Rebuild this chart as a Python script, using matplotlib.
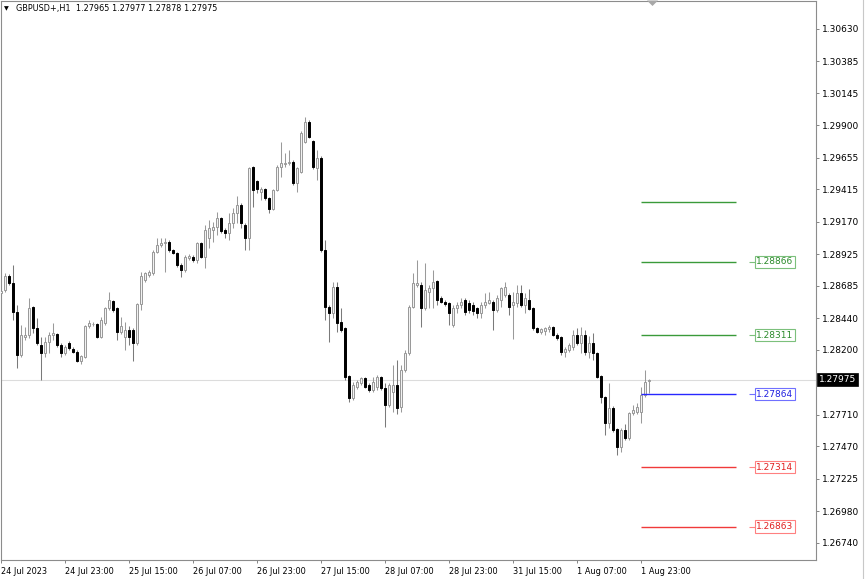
import matplotlib
matplotlib.use("Agg")
import matplotlib.pyplot as plt
import matplotlib.transforms as mtransforms
from matplotlib.patches import Polygon
from matplotlib.lines import Line2D

# ---------------- data (GBPUSD+, H1) ----------------
opens = [
    1.28631, 1.28654, 1.28760, 1.28706, 1.28487, 1.28161, 1.28298, 1.28313, 1.28525, 1.28366,
    1.28237, 1.28176, 1.28260, 1.28313, 1.28321, 1.28237, 1.28176, 1.28252, 1.28207, 1.28184,
    1.28116, 1.28146, 1.28381, 1.28396, 1.28396, 1.28298, 1.28404, 1.28517, 1.28570, 1.28517,
    1.28336, 1.28298, 1.28351, 1.28351, 1.28252, 1.28548, 1.28729, 1.28767, 1.28782, 1.28942,
    1.28995, 1.29010, 1.29017, 1.28957, 1.28934, 1.28843, 1.28805, 1.28896, 1.28904, 1.28881,
    1.29010, 1.28904, 1.29047, 1.29108, 1.29131, 1.29199, 1.29108, 1.29085, 1.29161, 1.29237,
    1.29297, 1.29146, 1.29047, 1.29585, 1.29479, 1.29396, 1.29418, 1.29350, 1.29267, 1.29411,
    1.29585, 1.29608, 1.29615, 1.29623, 1.29464, 1.29547, 1.29774, 1.29925, 1.29782, 1.29577,
    1.29653, 1.28957, 1.28525, 1.28480, 1.28676, 1.28412, 1.28366, 1.28003, 1.27836, 1.27919,
    1.27949, 1.27987, 1.27934, 1.27897, 1.27919, 1.27995, 1.27912, 1.27783, 1.27882, 1.27934,
    1.27768, 1.28048, 1.28176, 1.28525, 1.28691, 1.28691, 1.28517, 1.28639, 1.28668, 1.28722,
    1.28593, 1.28563, 1.28555, 1.28389, 1.28517, 1.28540, 1.28578, 1.28555, 1.28540, 1.28517,
    1.28480, 1.28540, 1.28555, 1.28563, 1.28502, 1.28578, 1.28616, 1.28616, 1.28540, 1.28555,
    1.28631, 1.28540, 1.28578, 1.28517, 1.28366, 1.28336, 1.28343, 1.28359, 1.28374, 1.28313,
    1.28298, 1.28184, 1.28199, 1.28222, 1.28313, 1.28252, 1.28313, 1.28184, 1.28252, 1.28176,
    1.28003, 1.27844, 1.27647, 1.27760, 1.27601, 1.27465, 1.27594, 1.27533, 1.27722, 1.27730,
    1.27730, 1.27859, 1.27965,
]
highs = [
    1.28668, 1.28782, 1.28775, 1.28843, 1.28540, 1.28389, 1.28374, 1.28593, 1.28533, 1.28441,
    1.28298, 1.28298, 1.28336, 1.28404, 1.28328, 1.28252, 1.28237, 1.28267, 1.28222, 1.28199,
    1.28161, 1.28389, 1.28427, 1.28412, 1.28404, 1.28449, 1.28525, 1.28639, 1.28578, 1.28525,
    1.28449, 1.28412, 1.28381, 1.28366, 1.28555, 1.28790, 1.28790, 1.28805, 1.28957, 1.29047,
    1.29047, 1.29047, 1.29032, 1.28964, 1.28942, 1.28858, 1.28919, 1.28927, 1.28919, 1.29017,
    1.29017, 1.29146, 1.29184, 1.29169, 1.29244, 1.29207, 1.29123, 1.29237, 1.29274, 1.29365,
    1.29312, 1.29161, 1.29585, 1.29593, 1.29487, 1.29434, 1.29426, 1.29358, 1.29418, 1.29600,
    1.29774, 1.29691, 1.29714, 1.29638, 1.29585, 1.29857, 1.29963, 1.29941, 1.29789, 1.29714,
    1.29668, 1.29032, 1.28540, 1.28714, 1.28714, 1.28517, 1.28374, 1.28010, 1.27957, 1.27972,
    1.27995, 1.27995, 1.27949, 1.27995, 1.28010, 1.28003, 1.27949, 1.27949, 1.28086, 1.28124,
    1.28086, 1.28199, 1.28540, 1.28782, 1.28881, 1.28714, 1.28858, 1.28691, 1.28805, 1.28729,
    1.28608, 1.28578, 1.28563, 1.28540, 1.28563, 1.28593, 1.28593, 1.28578, 1.28563, 1.28525,
    1.28563, 1.28631, 1.28639, 1.28578, 1.28616, 1.28676, 1.28714, 1.28631, 1.28639, 1.28691,
    1.28691, 1.28631, 1.28661, 1.28525, 1.28374, 1.28366, 1.28374, 1.28389, 1.28381, 1.28328,
    1.28305, 1.28222, 1.28252, 1.28351, 1.28366, 1.28374, 1.28351, 1.28305, 1.28328, 1.28184,
    1.28010, 1.27851, 1.27949, 1.27775, 1.27609, 1.27609, 1.27639, 1.27730, 1.27783, 1.27798,
    1.27919, 1.28048, 1.27977,
]
lows = [
    1.28616, 1.28639, 1.28691, 1.28427, 1.28063, 1.28146, 1.28275, 1.28290, 1.28328, 1.28237,
    1.27972, 1.28146, 1.28176, 1.28275, 1.28222, 1.28146, 1.28161, 1.28199, 1.28176, 1.28109,
    1.28094, 1.28139, 1.28366, 1.28381, 1.28290, 1.28290, 1.28389, 1.28502, 1.28487, 1.28275,
    1.28321, 1.28199, 1.28237, 1.28116, 1.28237, 1.28502, 1.28714, 1.28752, 1.28767, 1.28934,
    1.28980, 1.28790, 1.28942, 1.28927, 1.28828, 1.28752, 1.28790, 1.28881, 1.28866, 1.28858,
    1.28896, 1.28820, 1.28972, 1.29017, 1.29070, 1.29085, 1.29047, 1.29032, 1.29123, 1.29161,
    1.29123, 1.28957, 1.28957, 1.29282, 1.29388, 1.29335, 1.29335, 1.29237, 1.29259, 1.29403,
    1.29509, 1.29585, 1.29600, 1.29449, 1.29396, 1.29540, 1.29767, 1.29804, 1.29570, 1.29487,
    1.28942, 1.28427, 1.28260, 1.28442, 1.28336, 1.28336, 1.27972, 1.27806, 1.27821, 1.27904,
    1.27934, 1.27912, 1.27882, 1.27882, 1.27897, 1.27897, 1.27617, 1.27768, 1.27730, 1.27715,
    1.27730, 1.28033, 1.28161, 1.28517, 1.28676, 1.28374, 1.28502, 1.28517, 1.28517, 1.28540,
    1.28555, 1.28533, 1.28389, 1.28374, 1.28480, 1.28517, 1.28465, 1.28480, 1.28465, 1.28442,
    1.28442, 1.28517, 1.28548, 1.28351, 1.28487, 1.28525, 1.28601, 1.28465, 1.28283, 1.28525,
    1.28525, 1.28480, 1.28502, 1.28351, 1.28328, 1.28321, 1.28313, 1.28336, 1.28305, 1.28275,
    1.28161, 1.28146, 1.28184, 1.28199, 1.28237, 1.28176, 1.28161, 1.28139, 1.28124, 1.27987,
    1.27798, 1.27556, 1.27609, 1.27579, 1.27405, 1.27427, 1.27518, 1.27518, 1.27707, 1.27715,
    1.27647, 1.27844, 1.27878,
]
closes = [
    1.28646, 1.28760, 1.28706, 1.28487, 1.28161, 1.28313, 1.28313, 1.28517, 1.28366, 1.28252,
    1.28176, 1.28260, 1.28313, 1.28328, 1.28237, 1.28176, 1.28222, 1.28214, 1.28184, 1.28116,
    1.28154, 1.28381, 1.28404, 1.28398, 1.28298, 1.28427, 1.28517, 1.28578, 1.28502, 1.28336,
    1.28381, 1.28351, 1.28298, 1.28252, 1.28545, 1.28760, 1.28782, 1.28790, 1.28942, 1.28995,
    1.29010, 1.29017, 1.28957, 1.28934, 1.28843, 1.28805, 1.28904, 1.28912, 1.28881, 1.29010,
    1.28904, 1.29108, 1.29123, 1.29131, 1.29199, 1.29101, 1.29085, 1.29161, 1.29237, 1.29297,
    1.29161, 1.29047, 1.29577, 1.29411, 1.29418, 1.29418, 1.29350, 1.29267, 1.29411, 1.29585,
    1.29615, 1.29615, 1.29623, 1.29464, 1.29580, 1.29842, 1.29925, 1.29812, 1.29585, 1.29653,
    1.28957, 1.28525, 1.28480, 1.28676, 1.28404, 1.28351, 1.27995, 1.27836, 1.27934, 1.27957,
    1.27987, 1.27919, 1.27897, 1.27957, 1.27995, 1.27912, 1.27783, 1.27934, 1.27934, 1.27760,
    1.28048, 1.28176, 1.28525, 1.28706, 1.28706, 1.28517, 1.28654, 1.28668, 1.28714, 1.28578,
    1.28563, 1.28548, 1.28480, 1.28517, 1.28540, 1.28563, 1.28487, 1.28502, 1.28495, 1.28480,
    1.28540, 1.28563, 1.28578, 1.28502, 1.28593, 1.28668, 1.28676, 1.28525, 1.28563, 1.28631,
    1.28540, 1.28593, 1.28510, 1.28366, 1.28336, 1.28359, 1.28366, 1.28374, 1.28313, 1.28290,
    1.28184, 1.28207, 1.28237, 1.28313, 1.28252, 1.28313, 1.28184, 1.28252, 1.28176, 1.27995,
    1.27844, 1.27647, 1.27760, 1.27594, 1.27465, 1.27594, 1.27533, 1.27722, 1.27745, 1.27768,
    1.27859, 1.27957, 1.27975,
]

time_labels = ["24 Jul 2023", "24 Jul 23:00", "25 Jul 15:00", "26 Jul 07:00", "26 Jul 23:00",
               "27 Jul 15:00", "28 Jul 07:00", "28 Jul 23:00", "31 Jul 15:00", "1 Aug 07:00",
               "1 Aug 23:00"]
bars_per_label = 16

price_ticks = [1.30630, 1.30385, 1.30145, 1.29900, 1.29655, 1.29415, 1.29170, 1.28925,
               1.28685, 1.28440, 1.28200, 1.27710, 1.27470, 1.27225, 1.26980, 1.26740]
current_price = 1.27975

level_values = [1.29320, 1.28866, 1.28311, 1.27864, 1.27314, 1.26863]
level_kinds = ["up", "up", "up", "mid", "down", "down"]
level_labeled = [False, True, True, True, True, True]

title_text = "GBPUSD+,H1  1.27965 1.27977 1.27878 1.27975"

# ---------------- figure ----------------
W, H = 865, 579
fig = plt.figure(figsize=(W / 100, H / 100), dpi=100)
fig.patch.set_facecolor("white")

ax_left, ax_right, ax_top, ax_bot = 1, 816, 1, 560
ax = fig.add_axes([ax_left / W, (H - ax_bot) / H, (ax_right - ax_left) / W, (ax_bot - ax_top) / H])
ax.set_facecolor("white")

n = len(closes)
xs = list(range(n))
ppx = 4.0  # pixels per bar
x0 = 0.0
ax.set_xlim(x0, x0 + (ax_right - ax_left) / ppx)

ref_price, ref_px, px_per_unit = 1.28866, 262, 13209.0
ax.set_ylim(ref_price - (ax_bot - ref_px) / px_per_unit, ref_price + (ref_px - ax_top) / px_per_unit)

FS = 6.5
FS_SMALL = 5.9
FONT = "DejaVu Sans"

# current price line
ax.axhline(current_price, color="#dcdcdc", lw=0.8, zorder=0)

# candles
bull_edge = "#989898"
for i in xs:
    o, h, l, c = opens[i], highs[i], lows[i], closes[i]
    bull = c >= o
    ax.vlines(i, l, h, color="#9a9a9a" if bull else "#7a7a7a", lw=0.75, zorder=2)
    bottom = min(o, c)
    height = max(abs(c - o), 0.000012)
    ax.bar(i, height, bottom=bottom, width=0.72,
           color="#f2f2f2" if bull else "black",
           edgecolor=bull_edge if bull else "black",
           linewidth=0.7, zorder=3)

# level lines
colors = {"up": ("#3a9a3a", "#2b8a2b", "#7cc07c"),
          "mid": ("#2828ff", "#2020e0", "#7070ff"),
          "down": ("#f03a3a", "#e02020", "#ff8080")}
line_x0, line_x1 = (641 - ax_left) / ppx, (736 - ax_left) / ppx
lab_x = (755 - ax_left) / ppx
tick_x0 = (749 - ax_left) / ppx
for val, kind, lab in zip(level_values, level_kinds, level_labeled):
    lc, tc, ec = colors[kind]
    ax.hlines(val, line_x0, line_x1, color=lc, lw=1.0, zorder=4)
    if lab:
        ax.hlines(val, tick_x0, lab_x, color=ec, lw=0.8, zorder=4)
        ax.text(lab_x + 0.35, val, f"{val:.5f}", ha="left", va="center", color=tc,
                fontsize=FS, family=FONT, zorder=5,
                bbox=dict(boxstyle="square,pad=0.18", fc="white", ec=ec, lw=0.8))

# axes styling
for sp in ax.spines.values():
    sp.set_color("#8c8c8c")
    sp.set_linewidth(0.8)

ax.yaxis.tick_right()
ax.set_yticks(price_ticks)
ax.set_yticklabels([f"{v:.5f}" for v in price_ticks], fontsize=FS, family=FONT)
ax.tick_params(axis="y", length=2.5, width=0.6, color="#707070", pad=1.5)

tick_pos = [k * bars_per_label for k in range(len(time_labels))]
ax.set_xticks(tick_pos)
ax.set_xticklabels(time_labels, fontsize=FS_SMALL, family=FONT)
for t in ax.get_xticklabels():
    t.set_horizontalalignment("left")
ax.tick_params(axis="x", length=2.5, width=0.6, color="#707070", pad=2.2)

# current price tag on axis
trans = mtransforms.blended_transform_factory(ax.transAxes, ax.transData)
ax.text(1.0 + 3 / (ax_right - ax_left), current_price, f"{current_price:.5f}", transform=trans,
        ha="left", va="center", color="white", fontsize=FS, family=FONT, zorder=6,
        bbox=dict(boxstyle="square,pad=0.2", fc="black", ec="black", lw=0.5), clip_on=False)

# title
fig.text(4 / W, 1 - 9 / H, "\u25BC", fontsize=4.5, family=FONT, va="center", ha="left", color="black")
fig.text(16 / W, 1 - 9 / H, title_text, fontsize=FS_SMALL, family=FONT, va="center", ha="left", color="black")

# chart shift marker
tri = Polygon([(647 / W, 1 - 0.5 / H), (658 / W, 1 - 0.5 / H), (652.5 / W, 1 - 6 / H)],
              closed=True, transform=fig.transFigure, fc="#a8a8a8", ec="none")
fig.patches.append(tri)

# window border line on the right
fig.lines.append(Line2D([862.5 / W, 862.5 / W], [0, 1], transform=fig.transFigure, color="#c8c8c8", lw=0.8))

fig.savefig("out.png", dpi=100)
